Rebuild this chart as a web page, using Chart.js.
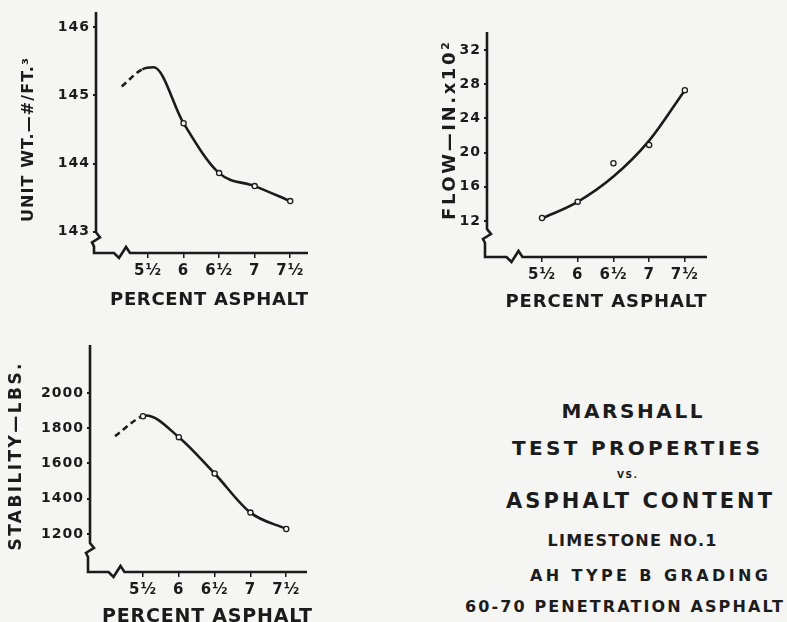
<!DOCTYPE html>
<html><head><meta charset="utf-8">
<script src="https://cdn.jsdelivr.net/npm/chart.js@4"></script>
<style>
html,body{margin:0;padding:0;background:#f5f5f3;}
#wrap{position:relative;width:787px;height:622px;overflow:hidden;background:#f5f5f3;}
canvas{position:absolute;}
.t{position:absolute;font-family:"DejaVu Sans",sans-serif;font-weight:bold;color:#1c1c1c;white-space:nowrap;transform:translate(-50%,-50%);line-height:1;}
</style></head>
<body><div id="wrap">
<canvas id="c1" width="330" height="320" style="left:0px;top:0px"></canvas>
<canvas id="c2" width="330" height="330" style="left:420px;top:0px"></canvas>
<canvas id="c3" width="330" height="292" style="left:0px;top:330px"></canvas>
<div class="t" data-w="141" style="left:632px;top:411px;font-size:20px">MARSHALL</div>
<div class="t" data-w="248" style="left:636px;top:448px;font-size:20px">TEST PROPERTIES</div>
<div class="t" data-w="20" style="left:627px;top:475px;font-size:9px">VS.</div>
<div class="t" data-w="266" style="left:639px;top:501px;font-size:21px">ASPHALT CONTENT</div>
<div class="t" data-w="169" style="left:632px;top:541px;font-size:16px">LIMESTONE NO.1</div>
<div class="t" data-w="238" style="left:649px;top:576px;font-size:16px">AH TYPE B GRADING</div>
<div class="t" data-w="318" style="left:624px;top:607px;font-size:16px">60-70 PENETRATION ASPHALT</div>
</div>
<script>
// ---------- data ----------
const xTicks = [5.5, 6, 6.5, 7, 7.5];
const xTickLabels = ['5½', '6', '6½', '7', '7½'];

const unitWtTicks = [143, 144, 145, 146];
const unitWtPointX = [6, 6.5, 7, 7.5];
const unitWtPointY = [144.59, 143.86, 143.67, 143.45];
const unitWtCurveX = [5.13, 5.42, 5.58, 6, 6.5, 7, 7.5];
const unitWtCurveY = [145.13, 145.38, 145.41, 144.59, 143.86, 143.67, 143.45];

const flowTicks = [12, 16, 20, 24, 28, 32];
const flowPointY = [12.35, 14.26, 18.75, 20.9, 27.3];
const flowCurveY = [12.3, 14.25, 17.2, 21.4, 27.3];

const stabTicks = [1200, 1400, 1600, 1800, 2000];
const stabPointY = [1868, 1749, 1543, 1321, 1228];
const stabCurveX = [5.11, 5.46, 5.54, 6, 6.5, 7, 7.5];
const stabCurveY = [1755, 1862, 1872, 1749, 1543, 1321, 1228];

// ---------- style ----------
const INK = '#1b1b1b';
const BG = '#f5f5f3';
const FAM = '"DejaVu Sans", sans-serif';

const zip = (xs, ys) => xs.map((x, i) => ({x, y: ys[i]}));

const decoPlugin = {
  id: 'deco',
  beforeDraw(chart) {
    chart.ctx.letterSpacing = '1px';
  },
  afterDraw(chart, args, o) {
    const {ctx, chartArea: a, scales: {x, y}} = chart;
    ctx.save();
    ctx.letterSpacing = '0px';
    ctx.strokeStyle = INK; ctx.lineWidth = 2.6; ctx.lineJoin = 'miter'; ctx.lineCap = 'butt';
    const lowTick = y.getPixelForValue(y.ticks[0].value);
    const yb = (lowTick + a.bottom) / 2 - 3;
    const firstTick = x.getPixelForValue(x.ticks[0].value);
    const xb = a.left + (firstTick - a.left) * 0.5;
    ctx.beginPath();
    ctx.moveTo(a.left, a.top);
    ctx.lineTo(a.left, yb - 7);
    ctx.lineTo(a.left + 4, yb - 2);
    ctx.lineTo(a.left - 4, yb + 3);
    ctx.lineTo(a.left - 2, yb + 7);
    ctx.lineTo(a.left - 2, a.bottom);
    ctx.lineTo(xb - 8, a.bottom);
    ctx.lineTo(xb - 3, a.bottom + 5);
    ctx.lineTo(xb + 4, a.bottom - 6);
    ctx.lineTo(xb + 8, a.bottom);
    ctx.lineTo(a.right, a.bottom);
    ctx.stroke();
    ctx.fillStyle = INK;
    (o.titles || []).forEach(t => {
      ctx.save();
      ctx.font = `bold ${t.size}px ${FAM}`;
      ctx.letterSpacing = '0px';
      const nat = ctx.measureText(t.text).width;
      const sp = (t.width - nat) / Math.max(1, t.text.length - 1);
      ctx.letterSpacing = sp + 'px';
      ctx.translate(t.x, t.y);
      ctx.rotate(t.rot || 0);
      ctx.textAlign = 'center';
      ctx.textBaseline = 'middle';
      ctx.fillText(t.text, sp / 2, 0);
      ctx.restore();
    });
    ctx.restore();
  }
};

function makeChart(id, cfg) {
  const dashSeg = {borderDash: c => (cfg.dashFirst && c.p0DataIndex === 0) ? [6, 4] : undefined};
  return new Chart(document.getElementById(id), {
    type: 'scatter',
    data: {
      datasets: [
        {
          data: cfg.curve, showLine: true, borderColor: INK, borderWidth: 2.6,
          pointRadius: 0, cubicInterpolationMode: cfg.interp, tension: 0.4, segment: dashSeg, order: 2
        },
        {
          data: cfg.points, showLine: false, pointRadius: 2.6, pointBorderWidth: 1.3,
          pointBorderColor: INK, pointBackgroundColor: BG, order: 1
        }
      ]
    },
    options: {
      responsive: false, animation: false, devicePixelRatio: 1,
      layout: {padding: cfg.pad},
      plugins: {legend: {display: false}, tooltip: {enabled: false}, deco: {titles: cfg.titles}},
      scales: {
        x: {
          type: 'linear', min: cfg.xMin, max: cfg.xMax,
          afterFit: s => { s.height = cfg.xH; },
          afterBuildTicks: s => { s.ticks = xTicks.map(v => ({value: v})); },
          grid: {drawOnChartArea: false, drawTicks: true, tickLength: 5, color: INK, lineWidth: 1.5},
          border: {display: false},
          ticks: {
            color: INK, font: {family: FAM, size: 15, weight: 'bold'}, padding: 4, maxRotation: 0,
            callback: v => xTickLabels[xTicks.indexOf(v)]
          }
        },
        y: {
          type: 'linear', min: cfg.yMin, max: cfg.yMax,
          afterFit: s => { s.width = cfg.yW; },
          afterBuildTicks: s => { s.ticks = cfg.yTicks.map(v => ({value: v})); },
          grid: {drawOnChartArea: false, drawTicks: true, tickLength: 3, color: INK, lineWidth: 2},
          border: {display: false},
          ticks: {color: INK, font: {family: FAM, size: 14, weight: 'bold'}, padding: 3, callback: v => String(v)}
        }
      }
    },
    plugins: [decoPlugin]
  });
}

makeChart('c1', {
  curve: zip(unitWtCurveX, unitWtCurveY), points: zip(unitWtPointX, unitWtPointY), dashFirst: true, interp: 'monotone',
  xMin: 4.768, xMax: 7.75, yMin: 142.69, yMax: 146.22, yTicks: unitWtTicks,
  yW: 96, xH: 67, pad: {top: 12, right: 22, left: 0, bottom: 0},
  titles: [
    {text: 'UNIT WT.—#/FT.³', x: 29, y: 140, rot: -Math.PI / 2, size: 16, width: 164},
    {text: 'PERCENT ASPHALT', x: 209, y: 300, size: 18, width: 198}
  ]
});

makeChart('c2', {
  curve: zip(xTicks, flowCurveY), points: zip(xTicks, flowPointY), dashFirst: false, interp: 'monotone',
  xMin: 4.73, xMax: 7.81, yMin: 7.79, yMax: 34.1, yTicks: flowTicks,
  yW: 67, xH: 73, pad: {top: 32, right: 43, left: 0, bottom: 0},
  titles: [
    {text: 'FLOW—IN.x10²', x: 30, y: 131, rot: -Math.PI / 2, size: 18, width: 178},
    {text: 'PERCENT ASPHALT', x: 186, y: 302, size: 18, width: 201}
  ]
});

makeChart('c3', {
  curve: zip(stabCurveX, stabCurveY), points: zip(xTicks, stabPointY), dashFirst: true, interp: 'monotone',
  xMin: 4.76, xMax: 7.79, yMin: 984, yMax: 2272, yTicks: stabTicks,
  yW: 90, xH: 50, pad: {top: 15, right: 23, left: 0, bottom: 0},
  titles: [
    {text: 'STABILITY—LBS.', x: 17, y: 127, rot: -Math.PI / 2, size: 17, width: 187},
    {text: 'PERCENT ASPHALT', x: 207, y: 287, size: 19, width: 210}
  ]
});

// fit letter spacing of the side caption lines
const mc = document.createElement('canvas').getContext('2d');
document.querySelectorAll('.t').forEach(el => {
  const size = parseFloat(el.style.fontSize);
  mc.font = `bold ${size}px ${FAM}`;
  const nat = mc.measureText(el.textContent).width;
  const sp = (parseFloat(el.dataset.w) - nat) / Math.max(1, el.textContent.length - 1);
  el.style.letterSpacing = sp + 'px';
  el.style.marginLeft = (sp / 2) + 'px';
});
</script>
</body></html>
